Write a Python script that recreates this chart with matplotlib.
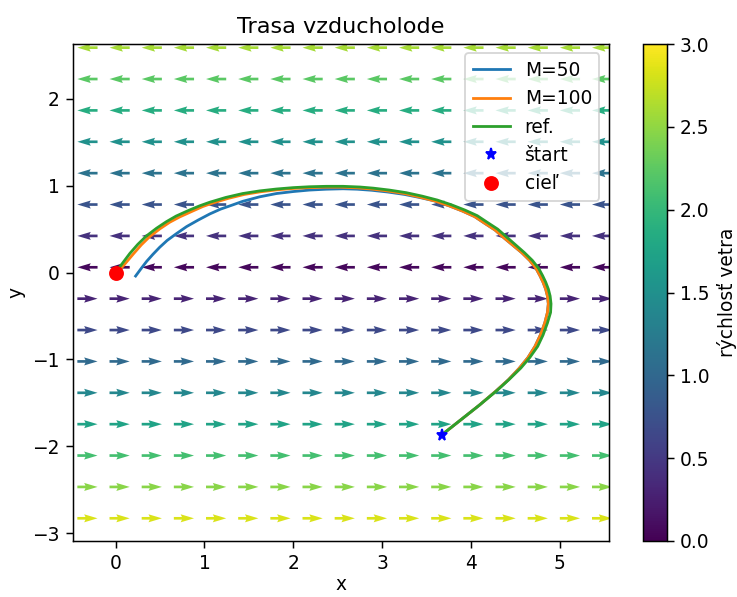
import matplotlib
matplotlib.use('Agg')
import matplotlib.pyplot as plt
import numpy as np

# wind field grid (speed = |y|, blows left above y=0, right below)
x_grid = np.linspace(-0.317, 5.475, 17)
y_grid = np.linspace(-2.83, 2.59, 16)

# trajectories (start -> goal)
ref_x = [3.67, 3.88, 4.09, 4.29, 4.43, 4.56, 4.66, 4.75, 4.81, 4.86, 4.895, 4.90, 4.89, 4.87, 4.84, 4.805,
         4.76, 4.69, 4.60, 4.50, 4.40, 4.30, 4.18, 4.07, 3.93, 3.78, 3.62, 3.45, 3.27, 3.08, 2.90, 2.75,
         2.56, 2.37, 2.18, 2.00, 1.81, 1.62, 1.43, 1.24, 1.06, 0.95, 0.82, 0.68, 0.57, 0.46, 0.345, 0.25,
         0.16, 0.05, 0.0]
ref_y = [-1.87, -1.70, -1.53, -1.36, -1.23, -1.10, -0.98, -0.85, -0.72, -0.58, -0.46, -0.36, -0.27, -0.19, -0.11, -0.035,
         0.05, 0.14, 0.23, 0.32, 0.41, 0.50, 0.58, 0.655, 0.72, 0.78, 0.835, 0.88, 0.92, 0.95, 0.972, 0.985,
         0.993, 0.993, 0.988, 0.978, 0.962, 0.94, 0.91, 0.865, 0.81, 0.77, 0.715, 0.65, 0.585, 0.51, 0.42, 0.325,
         0.22, 0.07, 0.0]

m100_x = [3.67, 3.88, 4.09, 4.28, 4.42, 4.54, 4.64, 4.72, 4.78, 4.83, 4.86, 4.87, 4.86, 4.84, 4.81, 4.775,
          4.73, 4.66, 4.57, 4.47, 4.37, 4.27, 4.15, 4.04, 3.90, 3.75, 3.59, 3.42, 3.25, 3.06, 2.88, 2.73,
          2.54, 2.35, 2.17, 1.99, 1.81, 1.63, 1.45, 1.27, 1.09, 0.98, 0.86, 0.72, 0.61, 0.50, 0.385, 0.29,
          0.20, 0.08, 0.0]
m100_y = [-1.87, -1.70, -1.53, -1.365, -1.235, -1.105, -0.98, -0.85, -0.72, -0.58, -0.46, -0.36, -0.27, -0.19, -0.11, -0.035,
          0.05, 0.14, 0.23, 0.315, 0.40, 0.49, 0.57, 0.645, 0.71, 0.77, 0.825, 0.87, 0.91, 0.94, 0.962, 0.975,
          0.983, 0.983, 0.978, 0.968, 0.952, 0.93, 0.90, 0.855, 0.80, 0.76, 0.705, 0.64, 0.58, 0.505, 0.415, 0.32,
          0.215, 0.07, 0.0]

m50_x = [3.67, 3.88, 4.09, 4.28, 4.42, 4.54, 4.64, 4.72, 4.78, 4.83, 4.86, 4.87, 4.86, 4.84, 4.81, 4.775,
         4.73, 4.66, 4.57, 4.47, 4.37, 4.27, 4.15, 4.04, 3.90, 3.75, 3.59, 3.42, 3.25, 3.06, 2.88, 2.72,
         2.56, 2.37, 2.18, 2.00, 1.81, 1.62, 1.43, 1.32, 1.18, 1.06, 0.93, 0.80, 0.68, 0.58, 0.495, 0.42,
         0.35, 0.29, 0.225]
m50_y = [-1.87, -1.70, -1.53, -1.365, -1.235, -1.105, -0.98, -0.85, -0.72, -0.58, -0.46, -0.36, -0.27, -0.19, -0.11, -0.035,
         0.05, 0.14, 0.23, 0.315, 0.40, 0.49, 0.57, 0.645, 0.71, 0.77, 0.825, 0.865, 0.90, 0.928, 0.948, 0.96,
         0.965, 0.96, 0.95, 0.933, 0.91, 0.872, 0.82, 0.78, 0.73, 0.675, 0.605, 0.53, 0.445, 0.37, 0.29, 0.21,
         0.13, 0.05, -0.04]

start = (3.67, -1.87)
goal = (0.0, 0.0)

X, Y = np.meshgrid(x_grid, y_grid)
U = -Y
V = np.zeros_like(Y)
speed = np.abs(Y)
norm = np.hypot(U, V)
Un = U / norm
Vn = V / norm

dpi = 134
fig = plt.figure(figsize=(737 / dpi, 597 / dpi), dpi=dpi)
ax = fig.add_axes([0.099, 0.094, 0.727, 0.832])
cax = fig.add_axes([0.873, 0.094, 0.032, 0.832])

q = ax.quiver(X, Y, Un, Vn, speed, cmap='viridis', pivot='mid',
              angles='xy', scale_units='xy', scale=4.4, width=0.005)
q.set_clim(0, 3)

ax.plot(m50_x, m50_y, label='M=50')
ax.plot(m100_x, m100_y, label='M=100')
ax.plot(ref_x, ref_y, label='ref.')
ax.plot(start[0], start[1], 'b*', label='štart')
ax.plot(goal[0], goal[1], 'ro', markersize=7, label='cieľ')

ax.set_xlim(-0.48, 5.55)
ax.set_ylim(-3.09, 2.63)
ax.set_title('Trasa vzducholode')
ax.set_xlabel('x', labelpad=1)
ax.set_ylabel('y')
ax.legend(loc='upper right')

cb = fig.colorbar(q, cax=cax)
cb.set_label('rýchlosť vetra')

plt.savefig('out.png', dpi=dpi)
